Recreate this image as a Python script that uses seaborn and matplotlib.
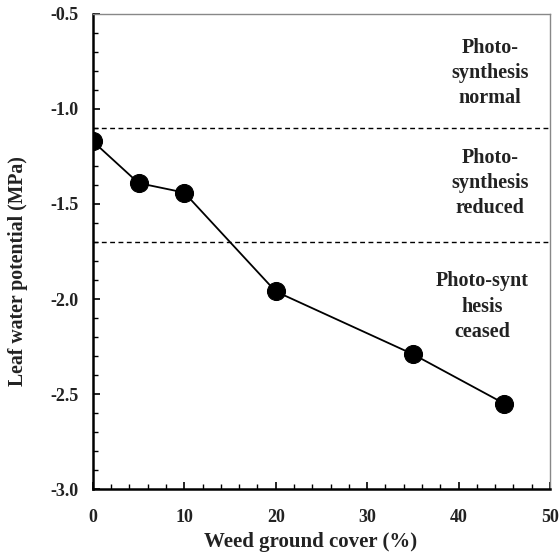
import matplotlib
matplotlib.use("Agg")
import matplotlib.pyplot as plt
from matplotlib.ticker import MultipleLocator, FormatStrFormatter
import seaborn as sns
import pandas as pd

weed_cover = [0, 5, 10, 20, 35, 45]
leaf_wp = [-1.17, -1.39, -1.44, -1.96, -2.29, -2.55]
thresholds = [-1.10, -1.70]
zone_labels = ["Photo-\nsynthesis\nnormal", "Photo-\nsynthesis\nreduced", "Photo-synt\nhesis\nceased"]

# text anchor positions (layout)
zone_pos = [(43.4, -0.81), (43.4, -1.39), (42.6, -2.04)]

sns.set_theme(style="white")
plt.rcParams['font.family'] = ['Liberation Serif', 'DejaVu Serif']
plt.rcParams['font.weight'] = 'bold'

df = pd.DataFrame({"x": weed_cover, "y": leaf_wp})

fig = plt.figure(figsize=(5.59, 5.54), dpi=100)
ax = fig.add_axes([0.166, 0.117, 0.818, 0.858])

for t in thresholds:
    ax.axhline(t, color="black", linestyle=(0, (3.5, 2.5)), linewidth=1.0, zorder=1)

sns.lineplot(data=df, x="x", y="y", ax=ax, color="black", linewidth=1.3,
             marker="o", markersize=13, markeredgecolor="black",
             markerfacecolor="black", zorder=3)

for lbl, (xx, yy) in zip(zone_labels, zone_pos):
    ax.text(xx, yy, lbl, ha="center", va="center", fontsize=14.5,
            fontweight="bold", linespacing=1.35, color="#222222")

ax.set_xlim(0, 50)
ax.set_ylim(-3.0, -0.5)
ax.xaxis.set_major_locator(MultipleLocator(10))
ax.xaxis.set_minor_locator(MultipleLocator(2))
ax.yaxis.set_major_locator(MultipleLocator(0.5))
ax.yaxis.set_minor_locator(MultipleLocator(0.1))
ax.yaxis.set_major_formatter(FormatStrFormatter("%.1f"))

ax.tick_params(axis="both", which="both", direction="in", bottom=True, left=True,
               top=False, right=False, colors="black", labelsize=13)
ax.tick_params(which="major", length=5, width=1.2)
ax.tick_params(which="minor", length=3.5, width=1.0)
ax.tick_params(axis="x", which="major", pad=14)
ax.tick_params(axis="y", which="major", pad=10)
for lab in ax.get_xticklabels() + ax.get_yticklabels():
    lab.set_fontweight("bold")
    lab.set_color("#222222")

for s in ["left", "bottom"]:
    ax.spines[s].set_color("black")
    ax.spines[s].set_linewidth(1.8)
for s in ["top", "right"]:
    ax.spines[s].set_color("#888888")
    ax.spines[s].set_linewidth(1.0)

ax.set_xlabel("Weed ground cover (%)", fontsize=15, fontweight="bold", color="#222222")
ax.set_ylabel("Leaf water potential (MPa)", fontsize=14.2, fontweight="bold", color="#222222")
ax.xaxis.set_label_coords(0.476, -0.090)
ax.yaxis.set_label_coords(-0.142, 0.459)

fig.savefig("out.png", dpi=100)
